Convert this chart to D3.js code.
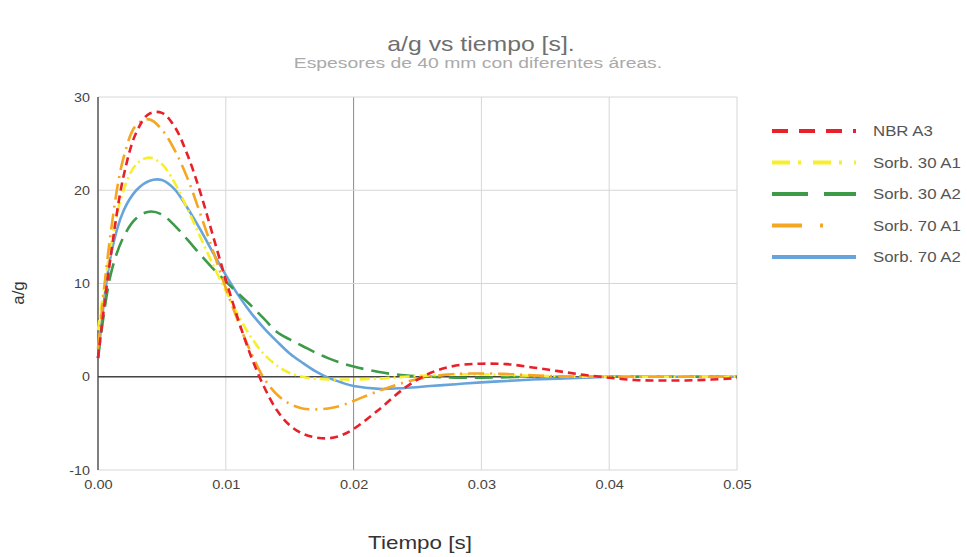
<!DOCTYPE html>
<meta charset="utf-8">
<style>
  body { margin: 0; background: #fff; }
  text { font-family: "Liberation Sans", Arial, sans-serif; }
  .grid line { stroke: #d6d6d6; stroke-width: 1px; }
  .series { fill: none; }
</style>
<body>
<script src="https://d3js.org/d3.v7.min.js"></script>
<script>
  // time samples [s]
  var tiempo = [0, 0.001, 0.002, 0.003, 0.004, 0.005, 0.006, 0.007, 0.008, 0.009,
    0.010, 0.011, 0.012, 0.013, 0.014, 0.015, 0.016, 0.017, 0.018, 0.019,
    0.020, 0.022, 0.024, 0.026, 0.028, 0.030, 0.032, 0.034, 0.036, 0.038,
    0.040, 0.042, 0.044, 0.046, 0.048, 0.050];

  // a/g values
  var nbrA3 = [2, 13, 21.5, 26.2, 28.2, 28.3, 26.8, 23.8, 19.8, 15.1,
    10.4, 6.0, 2.1, -1.1, -3.6, -5.2, -6.1, -6.5, -6.6, -6.3,
    -5.6, -3.5, -1.2, 0.4, 1.2, 1.4, 1.35, 1.0, 0.6, 0.2,
    -0.1, -0.35, -0.4, -0.4, -0.3, -0.15];
  var sorb30A1 = [5, 14, 20, 22.8, 23.5, 22.8, 20.8, 18, 15, 12,
    9.2, 6.5, 4.2, 2.4, 1.2, 0.4, 0.0, -0.2, -0.3, -0.3,
    -0.3, -0.2, 0, 0.15, 0.25, 0.25, 0.2, 0.1, 0.05, 0,
    0, 0, 0, 0, 0, 0];
  var sorb30A2 = [2, 11, 15, 17, 17.7, 17.4, 16.2, 14.7, 13.1, 11.6,
    10.2, 8.9, 7.6, 6.2, 4.8, 4.0, 3.3, 2.6, 2.0, 1.5,
    1.1, 0.5, 0.15, 0.0, -0.1, -0.1, -0.05, 0, 0, 0,
    0, 0, 0, 0, 0, 0];
  var sorb70A1 = [3, 15.5, 23.5, 27, 27.6, 26.5, 24.3, 21.3, 17.5, 13.5,
    9.5, 5.8, 2.5, -0.2, -1.9, -2.9, -3.4, -3.5, -3.4, -3.1,
    -2.6, -1.5, -0.6, 0.0, 0.3, 0.35, 0.3, 0.15, 0.05, 0,
    0, 0, 0, 0, 0, 0];
  var sorb70A2 = [2, 13, 17.8, 20, 21, 21.1, 20.1, 18.1, 15.8, 13.3,
    10.9, 8.7, 6.8, 5.2, 3.8, 2.5, 1.5, 0.6, -0.1, -0.6,
    -1.0, -1.3, -1.2, -1.0, -0.8, -0.6, -0.45, -0.3, -0.2, -0.1,
    0, 0, 0, 0, 0, 0];

  var nombres = ["NBR A3", "Sorb. 30 A1", "Sorb. 30 A2", "Sorb. 70 A1", "Sorb. 70 A2"];
  var colores = ["#e8202a", "#f6ef2a", "#3c9a48", "#f5a623", "#68a4dc"];
  var xTicks = [0, 0.01, 0.02, 0.03, 0.04, 0.05];
  var yTicks = [-10, 0, 10, 20, 30];

  var valores = [nbrA3, sorb30A1, sorb30A2, sorb70A1, sorb70A2];
  var dashPlot = ["8,5", "10,4,2,4", "18,8", "16,6,2,6", null];
  var dashLegend = ["16,11", "18,8,3,12", "36,16", "30,18,3,40", null];

  var W = 967, H = 557;
  var margin = { top: 97, right: 230, bottom: 87, left: 98 };
  var width = W - margin.left - margin.right,
      height = H - margin.top - margin.bottom;

  var svg = d3.select("body").append("svg")
    .attr("width", W)
    .attr("height", H);

  // the reference text looks a bit wide, stretch it horizontally
  function stretch(sel, k) {
    sel.each(function() {
      var w = this.getComputedTextLength();
      d3.select(this).attr("textLength", w * k).attr("lengthAdjust", "spacingAndGlyphs");
    });
  }

  var x = d3.scaleLinear().domain([0, 0.05]).range([0, width]);
  var y = d3.scaleLinear().domain([-10, 30]).range([height, 0]);

  var g = svg.append("g")
    .attr("transform", "translate(" + margin.left + "," + margin.top + ")");

  // gridlines
  var grid = g.append("g").attr("class", "grid");
  grid.selectAll(".gx").data(xTicks).enter().append("line")
    .attr("x1", d => x(d)).attr("x2", d => x(d))
    .attr("y1", 0).attr("y2", height)
    .style("stroke", d => d === 0.02 ? "#8a8a8a" : null);
  grid.selectAll(".gy").data(yTicks).enter().append("line")
    .attr("x1", 0).attr("x2", width)
    .attr("y1", d => y(d)).attr("y2", d => y(d));

  // zero baseline + left axis line
  g.append("line")
    .attr("x1", 0).attr("x2", width)
    .attr("y1", y(0)).attr("y2", y(0))
    .style("stroke", "#444").style("stroke-width", 1.3);
  g.append("line")
    .attr("x1", 0).attr("x2", 0)
    .attr("y1", 0).attr("y2", height)
    .style("stroke", "#444").style("stroke-width", 1.3);

  // tick labels
  var xAxis = d3.axisBottom(x).tickValues(xTicks).tickFormat(d3.format(".2f")).tickSize(0).tickPadding(10);
  var gx = g.append("g").attr("transform", "translate(0," + height + ")").call(xAxis);
  gx.select(".domain").remove();
  gx.selectAll("text").style("font-size", "13px").style("fill", "#444")
    .style("font-family", "'Liberation Sans', Arial, sans-serif");
  stretch(gx.selectAll("text"), 1.12);

  var yAxis = d3.axisLeft(y).tickValues(yTicks).tickFormat(d => String(d)).tickSize(0).tickPadding(8);
  var gy = g.append("g").call(yAxis);
  gy.select(".domain").remove();
  gy.selectAll("text").style("font-size", "13px").style("fill", "#444")
    .style("font-family", "'Liberation Sans', Arial, sans-serif");
  stretch(gy.selectAll("text"), 1.1);

  // lines
  var linea = d3.line()
    .x(function(d, i) { return x(tiempo[i]); })
    .y(function(d) { return y(d); })
    .curve(d3.curveCatmullRom.alpha(0.5));

  var orden = [4, 2, 1, 3, 0];
  orden.forEach(function(k) {
    g.append("path")
      .datum(valores[k])
      .attr("class", "series")
      .attr("d", linea)
      .style("stroke", colores[k])
      .style("stroke-width", 2.6)
      .style("stroke-dasharray", dashPlot[k]);
  });

  // legend
  var leg = svg.append("g").attr("transform", "translate(772,131)");
  nombres.forEach(function(n, i) {
    var row = leg.append("g").attr("transform", "translate(0," + (i * 31.5) + ")");
    row.append("line")
      .attr("x1", 0).attr("x2", 84).attr("y1", 0).attr("y2", 0)
      .style("stroke", colores[i]).style("stroke-width", 4)
      .style("stroke-dasharray", dashLegend[i]);
    row.append("text")
      .attr("x", 101).attr("y", 5)
      .style("font-size", "14px").style("fill", "#555")
      .text(n);
  });
  stretch(leg.selectAll("text"), 1.2);

  // titles
  var t1 = svg.append("text")
    .attr("x", 481).attr("y", 51)
    .attr("text-anchor", "middle")
    .style("font-size", "21px").style("fill", "#6f6f6f")
    .text("a/g vs tiempo [s].");
  stretch(t1, 1.18);
  var t2 = svg.append("text")
    .attr("x", 478).attr("y", 68)
    .attr("text-anchor", "middle")
    .style("font-size", "14px").style("fill", "#aaa")
    .text("Espesores de 40 mm con diferentes áreas.");
  stretch(t2, 1.38);

  var t3 = svg.append("text")
    .attr("x", 420).attr("y", 549)
    .attr("text-anchor", "middle")
    .style("font-size", "19px").style("fill", "#333")
    .text("Tiempo [s]");
  stretch(t3, 1.18);
  svg.append("text")
    .attr("transform", "translate(24,293) rotate(-90)")
    .attr("text-anchor", "middle")
    .style("font-size", "17px").style("fill", "#333")
    .text("a/g");
</script>
</body>
